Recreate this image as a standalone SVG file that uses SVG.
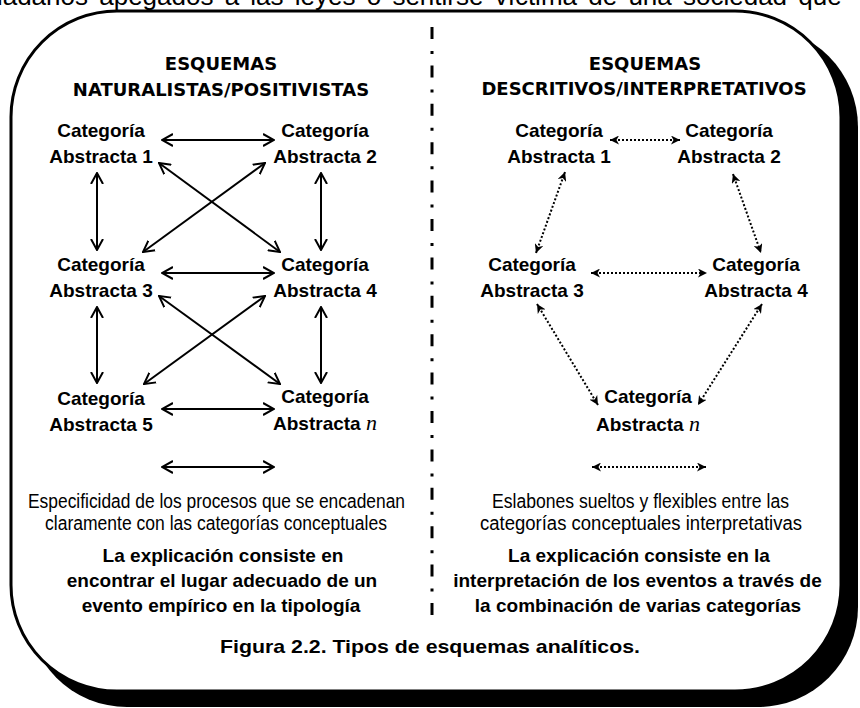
<svg xmlns="http://www.w3.org/2000/svg" width="860" height="708" viewBox="0 0 860 708">
<defs>
<style>
.node text{font-family:"Liberation Sans",Arial,sans-serif;font-weight:bold;font-size:19px;fill:#000;text-anchor:middle}
.hdr text{font-family:"DejaVu Sans",Verdana,sans-serif;font-weight:bold;font-size:18px;fill:#000;text-anchor:middle}
.reg{font-family:"Liberation Sans",Arial,sans-serif;font-size:19.5px;fill:#000;text-anchor:middle}
.bold{font-family:"Liberation Sans",Arial,sans-serif;font-weight:bold;font-size:19px;fill:#000;text-anchor:middle}
.nit{font-family:"Liberation Serif","Times New Roman",serif;font-style:italic;font-weight:normal;font-size:22px}
.solid{fill:none;stroke:#000;stroke-width:2;marker-start:url(#open);marker-end:url(#open)}
.dot{fill:none;stroke:#000;stroke-width:2;stroke-dasharray:2 2;marker-start:url(#fill);marker-end:url(#fill)}
</style>
<marker id="open" viewBox="0 0 12 14" refX="11" refY="7" markerWidth="12" markerHeight="14" markerUnits="userSpaceOnUse" orient="auto-start-reverse">
<path d="M0,1 L11,7 L0,13" fill="none" stroke="#000" stroke-width="2"/>
</marker>
<marker id="fill" viewBox="0 0 10 9" refX="9" refY="4.5" markerWidth="10" markerHeight="9" markerUnits="userSpaceOnUse" orient="auto-start-reverse">
<path d="M0,0 L9,4.5 L0,9 L2.5,4.5 Z" fill="#000"/>
</marker>
</defs>
<rect width="860" height="708" fill="#fff"/>
<text x="-45" y="5" font-family="Liberation Sans, Arial, sans-serif" font-size="26" word-spacing="4" fill="#000">ciudadanos apegados a las leyes o sentirse víctima de una sociedad que</text>
<g id="frame">
<rect x="27" y="27" width="831" height="680" rx="100" ry="100" fill="#000"/>
<rect x="11" y="11" width="830" height="680" rx="106" ry="106" fill="#fff" stroke="#000" stroke-width="3"/>
<line x1="432" y1="27" x2="432" y2="618" stroke="#000" stroke-width="3" stroke-dasharray="12 12 3 11.4"/>
</g>
<g id="hdr-left" class="hdr">
<text x="221" y="70">ESQUEMAS</text>
<text x="221" y="96">NATURALISTAS/POSITIVISTAS</text>
</g>
<g id="hdr-right" class="hdr">
<text x="645" y="70">ESQUEMAS</text>
<text x="644" y="95">DESCRITIVOS/INTERPRETATIVOS</text>
</g>
<g id="connectors">
<path class="solid" d="M162,140 H274"/>
<path class="solid" d="M97,173 V250"/>
<path class="solid" d="M321,173 V250"/>
<path class="solid" d="M159,163 L280,252"/>
<path class="solid" d="M265,163 L143,252"/>
<path class="solid" d="M162,273 H274"/>
<path class="solid" d="M97,307 V383"/>
<path class="solid" d="M321,307 V383"/>
<path class="solid" d="M159,296 L280,384"/>
<path class="solid" d="M265,296 L144,384"/>
<path class="solid" d="M162,409 H274"/>
<path class="solid" d="M162,467 H274"/>
<path class="dot" d="M610,140 H680"/>
<path class="dot" d="M565,172 L536,253"/>
<path class="dot" d="M733,174 L761,253"/>
<path class="dot" d="M591,273 H707"/>
<path class="dot" d="M537,304 L598,405"/>
<path class="dot" d="M762,304 L698,405"/>
<path class="dot" d="M592,467 H706"/>
</g>
<g id="L1" class="node"><text x="101" y="137">Categoría</text><text x="101" y="163">Abstracta 1</text></g>
<g id="L2" class="node"><text x="325" y="137">Categoría</text><text x="325" y="163">Abstracta 2</text></g>
<g id="L3" class="node"><text x="101" y="271">Categoría</text><text x="101" y="297">Abstracta 3</text></g>
<g id="L4" class="node"><text x="325" y="271">Categoría</text><text x="325" y="297">Abstracta 4</text></g>
<g id="L5" class="node"><text x="101" y="405">Categoría</text><text x="101" y="431">Abstracta 5</text></g>
<g id="Ln" class="node"><text x="325" y="403">Categoría</text><text x="325" y="430">Abstracta <tspan class="nit">n</tspan></text></g>
<g id="R1" class="node"><text x="559" y="137">Categoría</text><text x="559" y="163">Abstracta 1</text></g>
<g id="R2" class="node"><text x="729" y="137">Categoría</text><text x="729" y="163">Abstracta 2</text></g>
<g id="R3" class="node"><text x="532" y="271">Categoría</text><text x="532" y="297">Abstracta 3</text></g>
<g id="R4" class="node"><text x="756" y="271">Categoría</text><text x="756" y="297">Abstracta 4</text></g>
<g id="Rn" class="node"><text x="648" y="403">Categoría</text><text x="648" y="431">Abstracta <tspan class="nit">n</tspan></text></g>
<g id="legend-left">
<text class="reg" x="216.5" y="508" textLength="377" lengthAdjust="spacingAndGlyphs">Especificidad de los procesos que se encadenan</text>
<text class="reg" x="216" y="530" textLength="342" lengthAdjust="spacingAndGlyphs">claramente con las categorías conceptuales</text>
<text class="bold" x="223" y="562">La explicación consiste en</text>
<text class="bold" x="222" y="587">encontrar el lugar adecuado de un</text>
<text class="bold" x="221" y="612">evento empírico en la tipología</text>
</g>
<g id="legend-right">
<text class="reg" x="640.5" y="508" textLength="297" lengthAdjust="spacingAndGlyphs">Eslabones sueltos y flexibles entre las</text>
<text class="reg" x="641" y="530" textLength="322" lengthAdjust="spacingAndGlyphs">categorías conceptuales interpretativas</text>
<text class="bold" x="639" y="562">La explicación consiste en la</text>
<text class="bold" x="637.5" y="587">interpretación de los eventos a través de</text>
<text class="bold" x="638" y="612">la combinación de varias categorías</text>
</g>
<g id="caption">
<text class="bold" x="430" y="653" font-size="20.5" textLength="420" lengthAdjust="spacingAndGlyphs">Figura 2.2. Tipos de esquemas analíticos.</text>
</g>
</svg>
